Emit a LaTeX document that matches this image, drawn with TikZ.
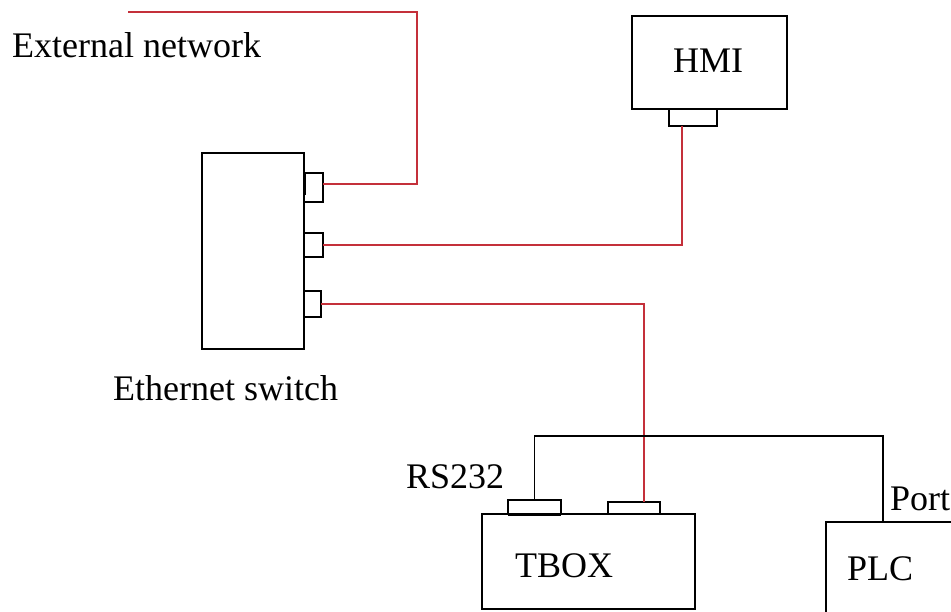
\documentclass[tikz,border=0pt]{standalone}
\usepackage{fontspec}
\setmainfont{Liberation Serif}
\begin{document}
\begin{tikzpicture}[x=1pt,y=-1pt,
  box/.style={draw=black,line width=1.6pt,inner sep=0pt,outer sep=0pt,anchor=north west,fill=white},
  lbl/.style={inner sep=0pt,anchor=base west,font=\fontsize{36}{40}\selectfont},
  redw/.style={draw=wirered,line width=1.6pt},
  blkw/.style={draw=black,line width=1.6pt}]
\definecolor{wirered}{RGB}{196,48,58}
\clip (0,0) rectangle (951,612);
\fill[white] (0,0) rectangle (951,612);
% boxes
\node[box,minimum width=102pt,minimum height=196pt] (sw) at (202,153) {};
\node[box,minimum width=19pt,minimum height=29pt] (p1) at (304,173) {};
\node[box,minimum width=19pt,minimum height=24pt] (p2) at (304,233) {};
\node[box,minimum width=17pt,minimum height=26pt] (p3) at (304,291) {};
\draw[line width=3pt] (p1.north west) -- ++(0,22);
\node[box,minimum width=155pt,minimum height=93pt] (hmi) at (632,16) {};
\node[box,minimum width=48pt,minimum height=17pt] (hp) at (669,109) {};
\node[box,minimum width=213pt,minimum height=95pt] (tbox) at (482,514) {};
\node[box,minimum width=53pt,minimum height=14pt] (ta) at (508,500) {};
\draw[line width=3pt] (ta.south west) -- (ta.south east);
\node[box,minimum width=52pt,minimum height=12pt] (tb) at (608,502) {};
\node[box,minimum width=200pt,minimum height=200pt] (plc) at (826,522) {};
% coordinates
\coordinate (c1) at (417,12);
\coordinate (extend) at (128,12);
\coordinate (portc) at (883,522);
\coordinate (toplevel) at (0,436);
% wires
\draw[redw] ([yshift=3.5pt]p1.east) -| (c1) -- (extend);
\draw[redw] (p2.east) -| ([xshift=-11pt]hp.south);
\draw[redw] (p3.east) -| ([xshift=10pt]tb.north);
\draw[blkw] (ta.north) -- (ta.north |- toplevel) -| (portc);
% labels
\node[lbl] (tExt) at (12,58) {External network};
\node[lbl] (tHMI) at (673,73) {HMI};
\node[lbl] (tSw) at (113,400) {Ethernet switch};
\node[lbl] (tRS) at (406,488) {RS232};
\node[lbl] (tTB) at (515,577) {TBOX};
\node[lbl] (tPort) at (890,510) {Port};
\node[lbl] (tPLC) at (847,580) {PLC};
\end{tikzpicture}
\end{document}
